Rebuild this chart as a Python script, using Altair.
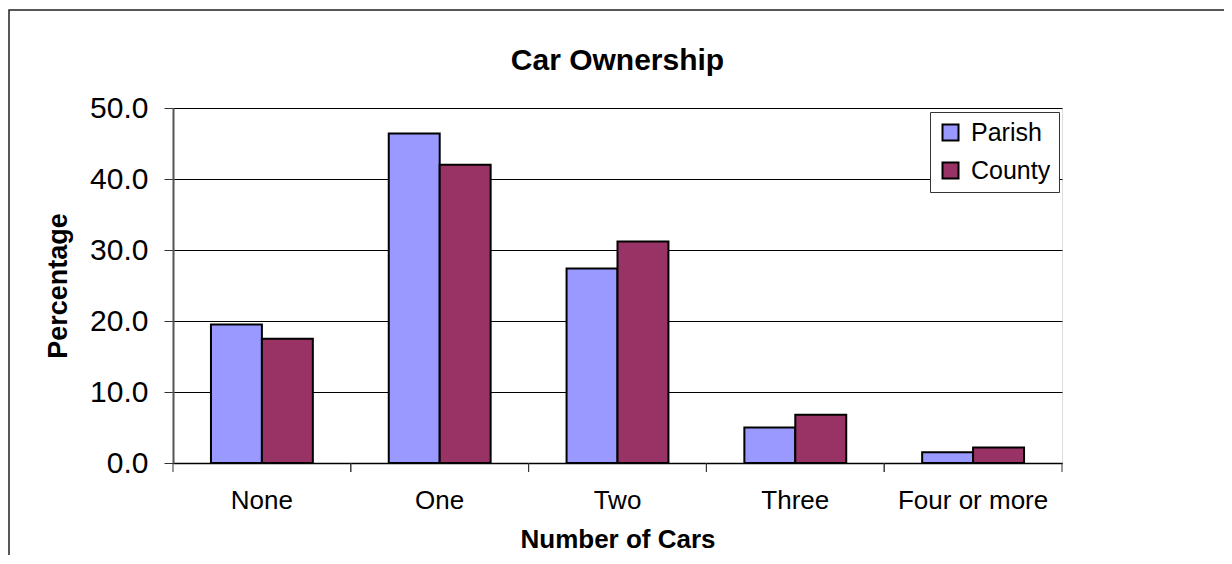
import altair as alt
import pandas as pd

categories = ["None", "One", "Two", "Three", "Four or more"]
parish = [19.5, 46.4, 27.4, 5.0, 1.5]
county = [17.5, 42.0, 31.2, 6.8, 2.2]
series = ["Parish", "County"]
colors = ["#9999FF", "#993366"]
y_ticks = [0, 10, 20, 30, 40, 50]

rows = []
for c, p, q in zip(categories, parish, county):
    rows.append({"cat": c, "series": "Parish", "value": p})
    rows.append({"cat": c, "series": "County", "value": q})
df = pd.DataFrame(rows)
cats_df = pd.DataFrame({"cat": categories})
one_df = pd.DataFrame({"a": [0]})

FONT = "Liberation Sans"
W, H = 889, 355
STEP = W / len(categories)

x_scale = alt.Scale(domain=categories, paddingInner=0.427, paddingOuter=0.2135)

x_axis = alt.Axis(
    title="Number of Cars",
    labelAngle=0,
    ticks=False,
    labelPadding=24,
    labelFontSize=26,
    labelFont=FONT,
    labelColor="black",
    titleFont=FONT,
    titleFontSize=26,
    titleFontWeight="bold",
    titleColor="black",
    titlePadding=13,
    domainColor="black",
    domainWidth=1.5,
    grid=False,
)

bars = alt.Chart(df).mark_bar(stroke="black", strokeWidth=2).encode(
    x=alt.X("cat:N", scale=x_scale, sort=categories, axis=x_axis),
    xOffset=alt.XOffset(
        "series:N", sort=series,
        scale=alt.Scale(domain=series, paddingInner=0, paddingOuter=0),
    ),
    y=alt.Y(
        "value:Q",
        scale=alt.Scale(domain=[0, 50], nice=False),
        axis=alt.Axis(
            title="Percentage",
            values=y_ticks,
            format=".1f",
            tickSize=9,
            tickColor="#333333",
            labelPadding=16,
            labelFontSize=30,
            labelFont=FONT,
            labelColor="black",
            titleFont=FONT,
            titleFontSize=27,
            titleFontWeight="bold",
            titleColor="black",
            titlePadding=17,
            domainColor="#555555",
            domainWidth=2,
            grid=True,
            gridColor="black",
            gridOpacity=1,
            gridWidth=1,
        ),
    ),
    color=alt.Color(
        "series:N",
        scale=alt.Scale(domain=series, range=colors),
        legend=alt.Legend(
            title=None,
            orient="none",
            legendX=757,
            legendY=4,
            fillColor="white",
            strokeColor="#333333",
            padding=8,
            symbolType="square",
            symbolSize=256,
            symbolStrokeColor="black",
            symbolStrokeWidth=2,
            symbolOpacity=1,
            labelFont=FONT,
            labelFontSize=25,
            labelColor="black",
            labelOffset=8,
            rowPadding=12,
            labelExpr="datum.label + '\u00a0\u00a0'",
        ),
    ),
)

ticks_left = alt.Chart(cats_df).mark_rule(
    color="#333333", strokeWidth=1, xOffset=-STEP / 2
).encode(
    x=alt.X("cat:N", scale=x_scale, sort=categories, axis=x_axis),
    y=alt.value(H),
    y2=alt.value(H + 9),
)
ticks_right = alt.Chart(cats_df).mark_rule(
    color="#333333", strokeWidth=1, xOffset=STEP / 2
).encode(
    x=alt.X("cat:N", scale=x_scale, sort=categories, axis=x_axis),
    y=alt.value(H),
    y2=alt.value(H + 9),
)

frame = alt.Chart(one_df).mark_rect(
    fillOpacity=0, stroke="#222222", strokeWidth=1.5
).encode(
    x=alt.value(-164),
    x2=alt.value(W + 200),
    y=alt.value(-98),
    y2=alt.value(H + 200),
)

chart = alt.layer(frame, bars, ticks_left, ticks_right).properties(
    width=W,
    height=H,
    title=alt.TitleParams(
        "Car Ownership",
        font=FONT,
        fontSize=30,
        fontWeight="bold",
        color="black",
        anchor="middle",
        frame="group",
        baseline="alphabetic",
        offset=-91,
    ),
    padding={"left": 165, "top": 100, "right": 162, "bottom": 92},
    autosize=alt.AutoSizeParams(type="none"),
).configure_view(
    fill="#C0C0C0", stroke="#808080", strokeWidth=1.5
).configure(background="white")

chart.save("out.html", embed_options={"renderer": "svg", "actions": False})
